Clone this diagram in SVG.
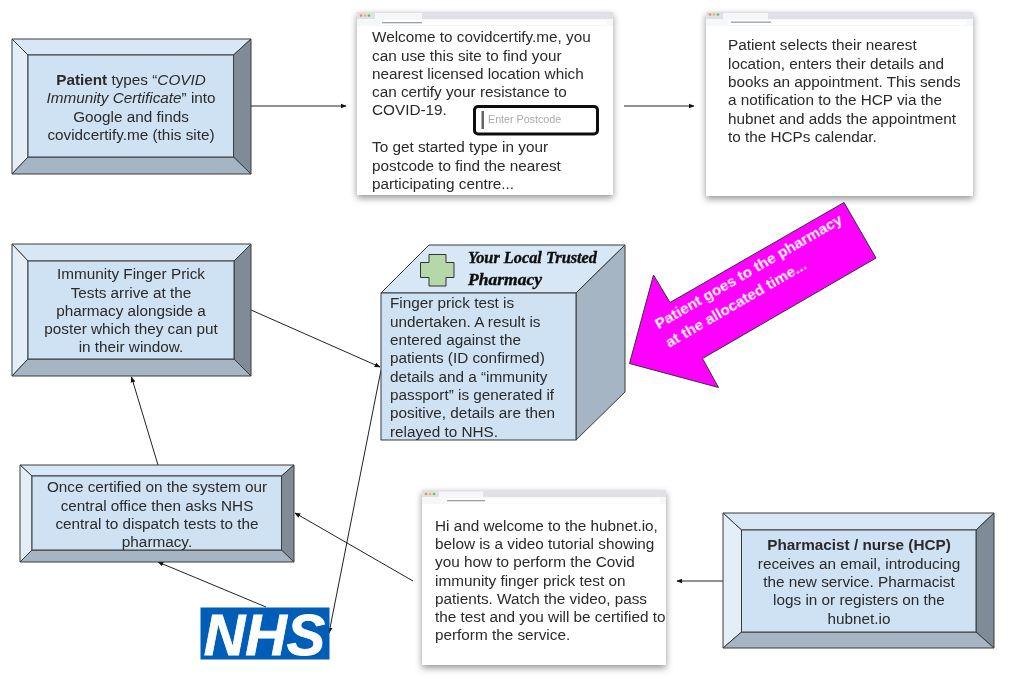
<svg xmlns="http://www.w3.org/2000/svg" width="1024" height="679" viewBox="0 0 1024 679">
<style>
text{font-family:"Liberation Sans",Arial,sans-serif;font-size:15.3px;fill:#2a2a2a;filter:url(#tsoft)}
.c{text-anchor:middle}
.b{font-weight:bold}
.i{font-style:italic}
.soft{filter:url(#soft)}
.edge{stroke:#3a3a3a;stroke-width:1;stroke-linejoin:miter}
.main{fill:#cfe2f3}.top{fill:#d8e7f6}.left{fill:#e3eef9}.right{fill:#7f8b97}.bot{fill:#a5b5c3}
.conn{fill:none;stroke:#222;stroke-width:1;marker-end:url(#arr)}
.page{fill:#fff;filter:url(#shadow)}
.bar1{fill:#dfe1e6}.bar2{fill:#f6f7f8}.urlb{fill:#fff}
.tiny{fill:#9aa0a6}
</style>
<defs>
<marker id="arr" viewBox="0 0 10 10" refX="9" refY="5" markerUnits="userSpaceOnUse" markerWidth="6" markerHeight="6" orient="auto"><path d="M0 1L10 5L0 9z" fill="#111"/></marker>
<filter id="shadow" x="-10%" y="-10%" width="120%" height="125%"><feDropShadow dx="0" dy="3" stdDeviation="3.5" flood-color="#000" flood-opacity=".42"/></filter>
<filter id="soft" x="-5%" y="-5%" width="110%" height="110%"><feGaussianBlur stdDeviation=".3"/></filter>
<filter id="tsoft" x="-5%" y="-20%" width="110%" height="140%"><feGaussianBlur stdDeviation=".28"/></filter>
</defs>

<g id="connectors">
<path class="conn" d="M251 106H346"/>
<path class="conn" d="M624 106H694"/>
<path class="conn" d="M251 310L380 367"/>
<path class="conn" d="M381 370L329 633"/>
<path class="conn" d="M158 465L131.500 377"/>
<path class="conn" d="M413 581L295 513"/>
<path class="conn" d="M266 607L158 562"/>
<path class="conn" d="M723 581H677"/>
</g>

<g id="patient">
<path class="top edge" d="M12 39H251L233.500 55H28z"/>
<path class="left edge" d="M12 39L28 55V157L12 174z"/>
<path class="right edge" d="M251 39V174L233.500 157V55z"/>
<path class="bot edge" d="M12 174L28 157H233.500L251 174z"/>
<rect class="main edge" x="28" y="55" width="205.500" height="102"/>
<text class="c" x="131" y="85"><tspan class="b">Patient</tspan> types “<tspan class="i">COVID</tspan></text>
<text class="c" x="131" y="103"><tspan class="i">Immunity Certificate</tspan>” into</text>
<text class="c" x="131" y="121.500">Google and finds</text>
<text class="c" x="131" y="139.500">covidcertify.me (this site)</text>
</g>

<g id="browser-welcome">
<rect class="page" x="357" y="12" width="256" height="183"/>
<g class="soft">
<rect class="bar1" x="357" y="12" width="256" height="7"/>
<rect class="bar2" x="357" y="19" width="256" height="7"/>
<circle cx="361" cy="15.500" r="1.300" fill="#ee8a5a"/><circle cx="365" cy="15.500" r="1.300" fill="#e8b94f"/><circle cx="369" cy="15.500" r="1.300" fill="#62c554"/>
<rect x="375" y="13" width="47" height="6" fill="#f6f7f8"/>
<rect class="urlb" x="380" y="20" width="227" height="5"/>
<rect class="tiny" x="382" y="22" width="40" height="1.300"/>
</g>
<text x="372" y="42">Welcome to covidcertify.me, you</text>
<text x="372" y="60.500">can use this site to find your</text>
<text x="372" y="78.500">nearest licensed location which</text>
<text x="372" y="97">can certify your resistance to</text>
<text x="372" y="115">COVID-19.</text>
<text x="372" y="152">To get started type in your</text>
<text x="372" y="170.500">postcode to find the nearest</text>
<text x="372" y="188.500">participating centre...</text>
<g class="soft">
<rect x="474.500" y="106.500" width="123" height="27.500" rx="3.500" fill="#fff" stroke="#111" stroke-width="3"/>
<rect x="481.500" y="111" width="2.500" height="18" fill="#666"/>
</g>
<text x="488" y="123" style="font-size:10.700px;fill:#aaa">Enter Postcode</text>
</g>

<g id="browser-booking">
<rect class="page" x="706" y="12" width="267" height="184"/>
<g class="soft">
<rect class="bar1" x="706" y="12" width="267" height="7"/>
<rect class="bar2" x="706" y="19" width="267" height="7"/>
<circle cx="710" cy="14.500" r="1.300" fill="#ee8a5a"/><circle cx="714" cy="14.500" r="1.300" fill="#e8b94f"/><circle cx="718" cy="14.500" r="1.300" fill="#62c554"/>
<rect x="723" y="13" width="45" height="6" fill="#f6f7f8"/>
<rect class="urlb" x="728" y="20" width="238" height="5"/>
<rect class="tiny" x="731" y="21.500" width="40" height="1.300"/>
</g>
<text x="728" y="50">Patient selects their nearest</text>
<text x="728" y="68.500">location, enters their details and</text>
<text x="728" y="87">books an appointment. This sends</text>
<text x="728" y="105">a notification to the HCP via the</text>
<text x="728" y="123.500">hubnet and adds the appointment</text>
<text x="728" y="142">to the HCPs calendar.</text>
</g>

<g id="browser-hubnet">
<rect class="page" x="422" y="490" width="244" height="175"/>
<g class="soft">
<rect class="bar1" x="422" y="490" width="244" height="7"/>
<rect class="bar2" x="422" y="497" width="244" height="7"/>
<circle cx="426" cy="494" r="1.300" fill="#ee8a5a"/><circle cx="430" cy="494" r="1.300" fill="#e8b94f"/><circle cx="434" cy="494" r="1.300" fill="#62c554"/>
<rect x="439" y="491.500" width="44" height="6" fill="#f6f7f8"/>
<rect class="urlb" x="444" y="498.500" width="216" height="5"/>
<rect class="tiny" x="447" y="500" width="38" height="1.300"/>
</g>
<text x="435" y="530.500">Hi and welcome to the hubnet.io,</text>
<text x="435" y="549">below is a video tutorial showing</text>
<text x="435" y="567">you how to perform the Covid</text>
<text x="435" y="585.500">immunity finger prick test on</text>
<text x="435" y="603.500">patients. Watch the video, pass</text>
<text x="435" y="622">the test and you will be certified to</text>
<text x="435" y="640">perform the service.</text>
</g>

<g id="pharmacist">
<path class="top edge" d="M723 513H994L976 530H741.500z"/>
<path class="left edge" d="M723 513L741.500 530V632L723 648z"/>
<path class="right edge" d="M994 513V648L976 632V530z"/>
<path class="bot edge" d="M723 648L741.500 632H976L994 648z"/>
<rect class="main edge" x="741.500" y="530" width="234.500" height="102"/>
<text class="c b" x="859" y="550">Pharmacist / nurse (HCP)</text>
<text class="c" x="859" y="568.500">receives an email, introducing</text>
<text class="c" x="859" y="587">the new service. Pharmacist</text>
<text class="c" x="859" y="605">logs in or registers on the</text>
<text class="c" x="859" y="623.500">hubnet.io</text>
</g>

<g id="immunity-tests">
<path class="top edge" d="M12 244H251L234 261H28z"/>
<path class="left edge" d="M12 244L28 261V359L12 376z"/>
<path class="right edge" d="M251 244V376L234 359V261z"/>
<path class="bot edge" d="M12 376L28 359H234L251 376z"/>
<rect class="main edge" x="28" y="261" width="206" height="98"/>
<text class="c" x="131" y="279">Immunity Finger Prick</text>
<text class="c" x="131" y="297.500">Tests arrive at the</text>
<text class="c" x="131" y="315.500">pharmacy alongside a</text>
<text class="c" x="131" y="334">poster which they can put</text>
<text class="c" x="131" y="352">in their window.</text>
</g>

<g id="central-office">
<path class="top edge" d="M20 465H294L281.500 476H32z"/>
<path class="left edge" d="M20 465L32 476V550L20 562z"/>
<path class="right edge" d="M294 465V562L281.500 550V476z"/>
<path class="bot edge" d="M20 562L32 550H281.500L294 562z"/>
<rect class="main edge" x="32" y="476" width="249.500" height="74"/>
<text class="c" x="157" y="492">Once certified on the system our</text>
<text class="c" x="157" y="510.500">central office then asks NHS</text>
<text class="c" x="157" y="528.500">central to dispatch tests to the</text>
<text class="c" x="157" y="547">pharmacy.</text>
</g>

<g id="nhs">
<rect x="200.500" y="607.500" width="129" height="52" fill="#005eb8"/>
<text class="b i c" x="264.500" y="655" style="font-size:57.500px;fill:#fff;stroke:#fff;stroke-width:.8">NHS</text>
</g>

<g id="pharmacy">
<path class="top edge" d="M381 293L429 245H625L576 293z"/>
<path class="bot edge" d="M576 293L625 245V392L576 440z"/>
<rect class="main edge" x="381" y="293" width="195" height="147"/>
<path d="M429 262.500V254.500H446V262.500H454V277.500H446V286H429V277.500H420.500V262.500z" fill="#b6d7a8" stroke="#333" stroke-width="1"/>
<text x="468" y="263" textLength="129" lengthAdjust="spacingAndGlyphs" style="font-family:'Liberation Serif',serif;font-size:17px;font-weight:bold;font-style:italic;fill:#111;stroke:#111;stroke-width:.4">Your Local Trusted</text>
<text x="468" y="285" textLength="74" lengthAdjust="spacingAndGlyphs" style="font-family:'Liberation Serif',serif;font-size:17px;font-weight:bold;font-style:italic;fill:#111;stroke:#111;stroke-width:.4">Pharmacy</text>
<text x="390" y="308">Finger prick test is</text>
<text x="390" y="326.500">undertaken. A result is</text>
<text x="390" y="345">entered against the</text>
<text x="390" y="363">patients (ID confirmed)</text>
<text x="390" y="381.500">details and a “immunity</text>
<text x="390" y="400">passport” is generated if</text>
<text x="390" y="418">positive, details are then</text>
<text x="390" y="436.500">relayed to NHS.</text>
</g>

<g id="travel-arrow">
<path d="M629.500 363.500L653.500 275L670 302.500L844 202.500L876 258L702.500 358.500L718.500 387.500z" fill="#f0f" stroke="#333" stroke-width="1"/>
<text class="c b" transform="translate(751 276) rotate(-30)" style="font-size:15.300px;fill:#fff">Patient goes to the pharmacy</text>
<text class="c b" transform="translate(738.500 308) rotate(-30)" style="font-size:15.300px;fill:#fff">at the allocated time...</text>
</g>
</svg>
